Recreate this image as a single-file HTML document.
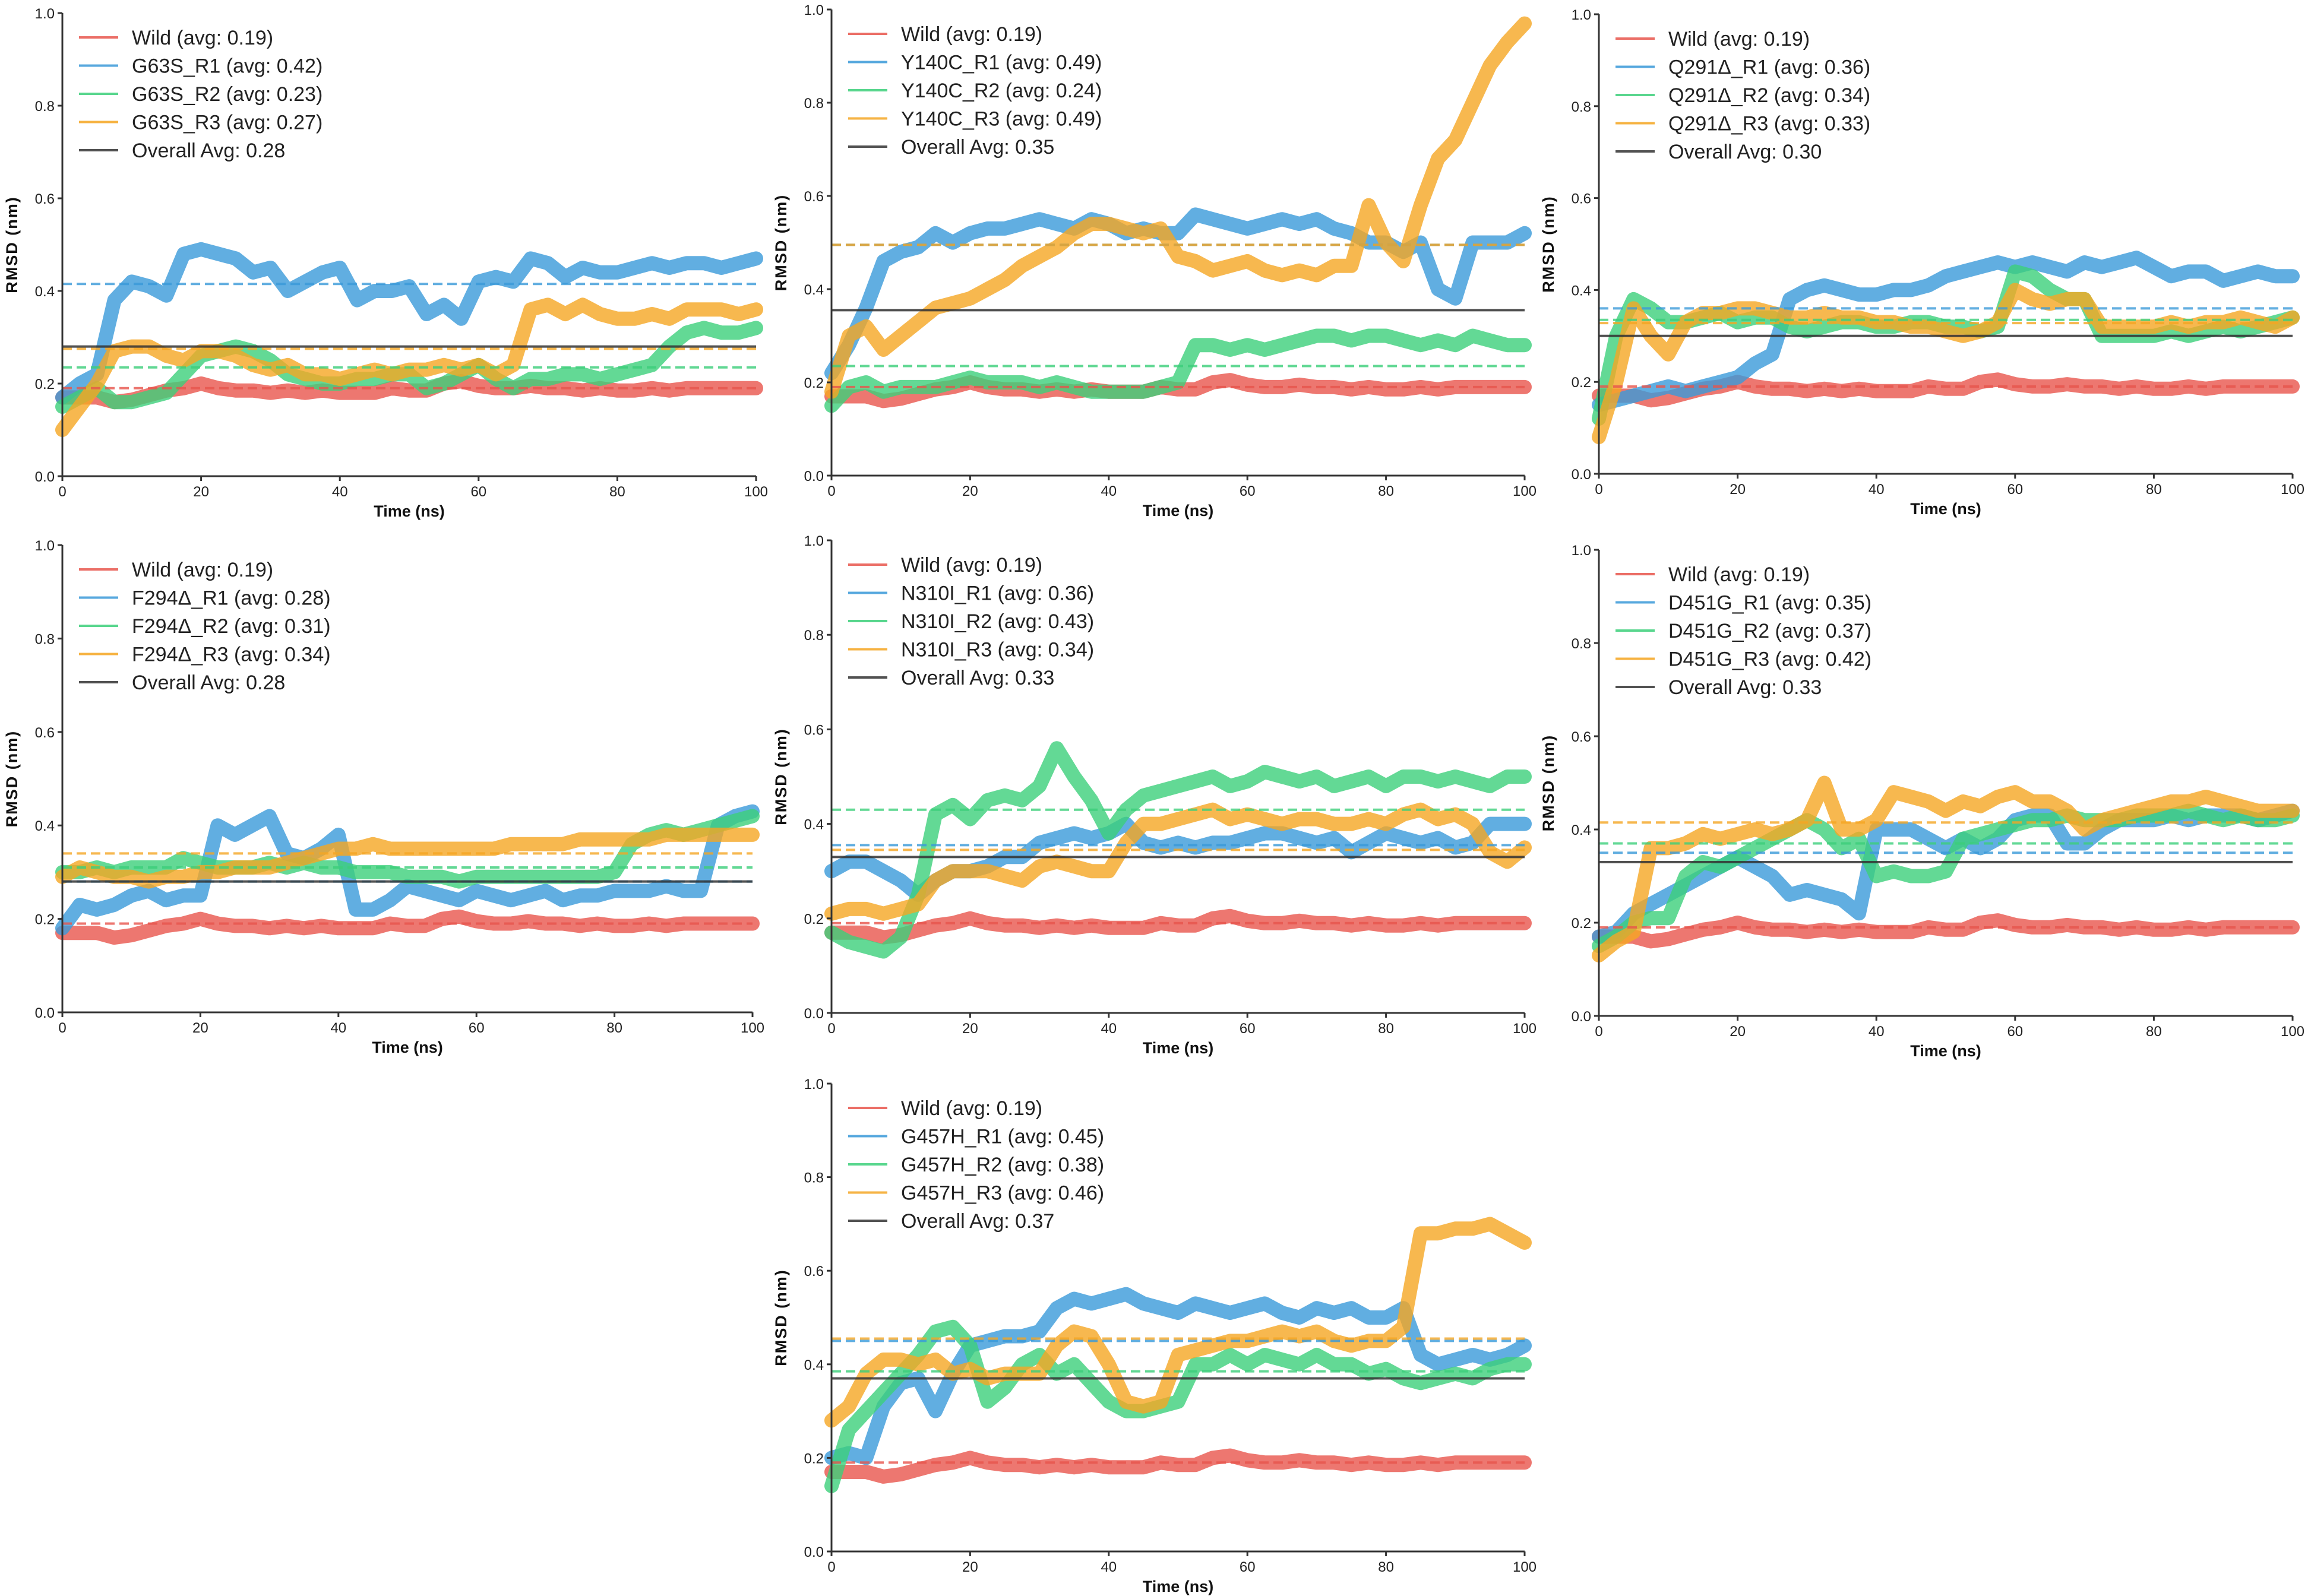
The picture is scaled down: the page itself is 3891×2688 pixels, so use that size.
<!DOCTYPE html>
<html><head><meta charset="utf-8">
<style>
html,body{margin:0;padding:0;background:#fff;}
svg{display:block;}
text{font-family:"Liberation Sans","DejaVu Sans",sans-serif;}
</style></head>
<body>
<svg id="fig" width="3891" height="2688" viewBox="0 0 3891 2688" xmlns="http://www.w3.org/2000/svg"></svg>
<script>
// time axis: 0..100 ns every 2.5 ns
const times = [0,2.5,5,7.5,10,12.5,15,17.5,20,22.5,25,27.5,30,32.5,35,37.5,40,42.5,45,47.5,50,52.5,55,57.5,60,62.5,65,67.5,70,72.5,75,77.5,80,82.5,85,87.5,90,92.5,95,97.5,100];
const yTicks = [0.0,0.2,0.4,0.6,0.8,1.0];
const xTicks = [0,20,40,60,80,100];
const wild = [0.17,0.17,0.17,0.16,0.165,0.175,0.185,0.19,0.20,0.19,0.185,0.185,0.18,0.185,0.18,0.185,0.18,0.18,0.18,0.19,0.185,0.185,0.20,0.205,0.195,0.19,0.19,0.195,0.19,0.19,0.185,0.19,0.185,0.185,0.19,0.185,0.19,0.19,0.19,0.19,0.19];
const wildAvg = 0.19;

const g63sR1 = [0.17,0.20,0.22,0.38,0.42,0.41,0.39,0.48,0.49,0.48,0.47,0.44,0.45,0.40,0.42,0.44,0.45,0.38,0.40,0.40,0.41,0.35,0.37,0.34,0.42,0.43,0.42,0.47,0.46,0.43,0.45,0.44,0.44,0.45,0.46,0.45,0.46,0.46,0.45,0.46,0.47];
const g63sR2 = [0.15,0.17,0.19,0.16,0.16,0.17,0.18,0.22,0.26,0.27,0.28,0.27,0.25,0.22,0.21,0.20,0.20,0.21,0.21,0.22,0.22,0.19,0.20,0.22,0.24,0.21,0.19,0.21,0.21,0.22,0.22,0.21,0.22,0.23,0.24,0.28,0.31,0.32,0.31,0.31,0.32];
const g63sR3 = [0.10,0.15,0.20,0.27,0.28,0.28,0.26,0.25,0.27,0.27,0.26,0.24,0.23,0.24,0.22,0.22,0.21,0.22,0.23,0.22,0.23,0.23,0.24,0.23,0.24,0.22,0.24,0.36,0.37,0.35,0.37,0.35,0.34,0.34,0.35,0.34,0.36,0.36,0.36,0.35,0.36];
const g63sAvgs = [0.415,0.235,0.275,0.28];

const y140cR1 = [0.22,0.28,0.36,0.46,0.48,0.49,0.52,0.50,0.52,0.53,0.53,0.54,0.55,0.54,0.53,0.55,0.54,0.52,0.53,0.52,0.52,0.56,0.55,0.54,0.53,0.54,0.55,0.54,0.55,0.53,0.52,0.50,0.50,0.48,0.50,0.40,0.38,0.50,0.50,0.50,0.52];
const y140cR2 = [0.15,0.19,0.20,0.18,0.19,0.19,0.19,0.20,0.21,0.20,0.20,0.20,0.19,0.20,0.19,0.18,0.18,0.18,0.18,0.19,0.20,0.28,0.28,0.27,0.28,0.27,0.28,0.29,0.30,0.30,0.29,0.30,0.30,0.29,0.28,0.29,0.28,0.30,0.29,0.28,0.28];
const y140cR3 = [0.18,0.30,0.32,0.27,0.30,0.33,0.36,0.37,0.38,0.40,0.42,0.45,0.47,0.49,0.52,0.54,0.54,0.53,0.52,0.53,0.47,0.46,0.44,0.45,0.46,0.44,0.43,0.44,0.43,0.45,0.45,0.58,0.50,0.46,0.58,0.68,0.72,0.80,0.88,0.93,0.97];
const y140cAvgs = [0.495,0.235,0.495,0.355];

const q291R1 = [0.15,0.16,0.17,0.18,0.19,0.18,0.19,0.20,0.21,0.24,0.26,0.38,0.40,0.41,0.40,0.39,0.39,0.40,0.40,0.41,0.43,0.44,0.45,0.46,0.45,0.46,0.45,0.44,0.46,0.45,0.46,0.47,0.45,0.43,0.44,0.44,0.42,0.43,0.44,0.43,0.43];
const q291R2 = [0.12,0.30,0.38,0.36,0.33,0.33,0.34,0.35,0.33,0.34,0.34,0.32,0.31,0.32,0.33,0.33,0.32,0.32,0.33,0.33,0.32,0.32,0.31,0.32,0.44,0.43,0.40,0.38,0.38,0.30,0.30,0.30,0.30,0.31,0.30,0.31,0.32,0.31,0.32,0.33,0.34];
const q291R3 = [0.08,0.20,0.36,0.30,0.26,0.33,0.35,0.35,0.36,0.36,0.35,0.34,0.34,0.35,0.34,0.34,0.33,0.33,0.32,0.32,0.31,0.30,0.31,0.33,0.40,0.38,0.37,0.38,0.38,0.32,0.32,0.32,0.32,0.33,0.32,0.33,0.33,0.34,0.33,0.32,0.34];
const q291Avgs = [0.36,0.335,0.328,0.30];

const f294R1 = [0.18,0.23,0.22,0.23,0.25,0.26,0.24,0.25,0.25,0.40,0.38,0.40,0.42,0.34,0.33,0.35,0.38,0.22,0.22,0.24,0.27,0.26,0.25,0.24,0.26,0.25,0.24,0.25,0.26,0.24,0.25,0.25,0.26,0.26,0.26,0.27,0.26,0.26,0.40,0.42,0.43];
const f294R2 = [0.30,0.30,0.31,0.30,0.31,0.31,0.31,0.33,0.32,0.31,0.31,0.31,0.32,0.31,0.32,0.31,0.31,0.30,0.30,0.30,0.29,0.29,0.29,0.28,0.29,0.29,0.29,0.29,0.29,0.29,0.29,0.29,0.30,0.36,0.38,0.39,0.38,0.39,0.40,0.41,0.42];
const f294R3 = [0.29,0.31,0.30,0.29,0.29,0.28,0.29,0.29,0.30,0.30,0.31,0.31,0.31,0.32,0.33,0.34,0.35,0.35,0.36,0.35,0.35,0.35,0.35,0.35,0.35,0.35,0.36,0.36,0.36,0.36,0.37,0.37,0.37,0.37,0.37,0.38,0.38,0.38,0.38,0.38,0.38];
const f294Avgs = [0.28,0.31,0.34,0.28];

const n310R1 = [0.30,0.32,0.32,0.30,0.28,0.25,0.28,0.30,0.30,0.31,0.33,0.33,0.36,0.37,0.38,0.37,0.38,0.40,0.36,0.35,0.36,0.35,0.36,0.36,0.37,0.38,0.38,0.37,0.36,0.37,0.34,0.36,0.38,0.37,0.36,0.37,0.35,0.36,0.40,0.40,0.40];
const n310R2 = [0.17,0.15,0.14,0.13,0.16,0.25,0.42,0.44,0.41,0.45,0.46,0.45,0.48,0.56,0.50,0.45,0.38,0.43,0.46,0.47,0.48,0.49,0.50,0.48,0.49,0.51,0.50,0.49,0.50,0.48,0.49,0.50,0.48,0.50,0.50,0.49,0.50,0.49,0.48,0.50,0.50];
const n310R3 = [0.21,0.22,0.22,0.21,0.22,0.23,0.28,0.30,0.30,0.30,0.29,0.28,0.31,0.32,0.31,0.30,0.30,0.36,0.40,0.40,0.41,0.42,0.43,0.41,0.42,0.41,0.40,0.41,0.41,0.40,0.40,0.41,0.40,0.42,0.43,0.41,0.42,0.40,0.34,0.32,0.35];
const n310Avgs = [0.355,0.43,0.345,0.33];

const d451R1 = [0.17,0.18,0.22,0.24,0.26,0.28,0.30,0.32,0.34,0.32,0.30,0.26,0.27,0.26,0.25,0.22,0.40,0.40,0.40,0.38,0.36,0.38,0.36,0.38,0.42,0.43,0.43,0.37,0.37,0.40,0.42,0.42,0.42,0.43,0.42,0.43,0.43,0.43,0.42,0.43,0.44];
const d451R2 = [0.15,0.17,0.20,0.21,0.21,0.30,0.33,0.32,0.34,0.36,0.38,0.40,0.42,0.40,0.36,0.38,0.30,0.31,0.30,0.30,0.31,0.38,0.39,0.40,0.41,0.42,0.42,0.43,0.42,0.42,0.42,0.43,0.43,0.43,0.44,0.43,0.42,0.43,0.42,0.42,0.43];
const d451R3 = [0.13,0.16,0.18,0.36,0.36,0.37,0.39,0.38,0.39,0.40,0.39,0.40,0.42,0.50,0.40,0.40,0.42,0.48,0.47,0.46,0.44,0.46,0.45,0.47,0.48,0.46,0.46,0.44,0.40,0.42,0.43,0.44,0.45,0.46,0.46,0.47,0.46,0.45,0.44,0.44,0.44];
const d451Avgs = [0.35,0.37,0.415,0.33];

const g457R1 = [0.20,0.21,0.20,0.31,0.36,0.37,0.30,0.38,0.44,0.45,0.46,0.46,0.47,0.52,0.54,0.53,0.54,0.55,0.53,0.52,0.51,0.53,0.52,0.51,0.52,0.53,0.51,0.50,0.52,0.51,0.52,0.50,0.50,0.52,0.42,0.40,0.41,0.42,0.41,0.42,0.44];
const g457R2 = [0.14,0.26,0.30,0.34,0.38,0.42,0.47,0.48,0.44,0.32,0.35,0.40,0.42,0.38,0.40,0.36,0.32,0.30,0.30,0.31,0.32,0.40,0.40,0.42,0.40,0.42,0.41,0.40,0.42,0.40,0.40,0.38,0.39,0.37,0.36,0.37,0.38,0.37,0.39,0.40,0.40];
const g457R3 = [0.28,0.31,0.38,0.41,0.41,0.40,0.41,0.38,0.39,0.37,0.38,0.38,0.38,0.44,0.47,0.46,0.40,0.32,0.31,0.32,0.42,0.43,0.44,0.45,0.45,0.46,0.47,0.46,0.47,0.45,0.44,0.45,0.45,0.48,0.68,0.68,0.69,0.69,0.70,0.68,0.66];
const g457Avgs = [0.45,0.385,0.455,0.37];

const panelNames = ["G63S","Y140C","Q291Δ","F294Δ","N310I","D451G","G457H"];
const panelLegends = [
 ["Wild (avg: 0.19)","G63S_R1 (avg: 0.42)","G63S_R2 (avg: 0.23)","G63S_R3 (avg: 0.27)","Overall Avg: 0.28"],
 ["Wild (avg: 0.19)","Y140C_R1 (avg: 0.49)","Y140C_R2 (avg: 0.24)","Y140C_R3 (avg: 0.49)","Overall Avg: 0.35"],
 ["Wild (avg: 0.19)","Q291Δ_R1 (avg: 0.36)","Q291Δ_R2 (avg: 0.34)","Q291Δ_R3 (avg: 0.33)","Overall Avg: 0.30"],
 ["Wild (avg: 0.19)","F294Δ_R1 (avg: 0.28)","F294Δ_R2 (avg: 0.31)","F294Δ_R3 (avg: 0.34)","Overall Avg: 0.28"],
 ["Wild (avg: 0.19)","N310I_R1 (avg: 0.36)","N310I_R2 (avg: 0.43)","N310I_R3 (avg: 0.34)","Overall Avg: 0.33"],
 ["Wild (avg: 0.19)","D451G_R1 (avg: 0.35)","D451G_R2 (avg: 0.37)","D451G_R3 (avg: 0.42)","Overall Avg: 0.33"],
 ["Wild (avg: 0.19)","G457H_R1 (avg: 0.45)","G457H_R2 (avg: 0.38)","G457H_R3 (avg: 0.46)","Overall Avg: 0.37"]
];
const panelSeries = [[g63sR1,g63sR2,g63sR3],[y140cR1,y140cR2,y140cR3],[q291R1,q291R2,q291R3],[f294R1,f294R2,f294R3],[n310R1,n310R2,n310R3],[d451R1,d451R2,d451R3],[g457R1,g457R2,g457R3]];
const panelAvgs = [g63sAvgs,y140cAvgs,q291Avgs,f294Avgs,n310Avgs,d451Avgs,g457Avgs];

// layout (pixel geometry, not data)
const layout = [
 {x0:105,x1:1273,yb:802,yt:22},
 {x0:1400,x1:2567,yb:801,yt:16},
 {x0:2692,x1:3860,yb:798,yt:24},
 {x0:105,x1:1267,yb:1705,yt:918},
 {x0:1400,x1:2567,yb:1706,yt:910},
 {x0:2692,x1:3860,yb:1711,yt:926},
 {x0:1400,x1:2567,yb:2613,yt:1825}
];
const colors = ["#e8554c","#3a9ad9","#3ccf7a","#f5a623"];
const NS = "http://www.w3.org/2000/svg";
const fig = document.getElementById("fig");
function mk(tag, attrs, parent){
  const e = document.createElementNS(NS, tag);
  for (const k in attrs) e.setAttribute(k, attrs[k]);
  parent.appendChild(e);
  return e;
}

layout.forEach((L, p) => {
  const g = mk("g", {}, fig);
  
  
  const sx = t => L.x0 + (t/100)*(L.x1-L.x0);
  const sy = v => L.yb - v*(L.yb-L.yt);

  const all = [wild].concat(panelSeries[p]);
  all.forEach((ser, s) => {
    let d = "";
    ser.forEach((v,i) => { d += (i?"L":"M") + sx(times[i]).toFixed(1) + "," + sy(v).toFixed(1); });
    const path = mk("path", {d:d, fill:"none", stroke:colors[s], "stroke-width":24, "stroke-linejoin":"round", "stroke-linecap":"round", opacity:0.8}, g);
    
    
  });
  // average dashed lines
  const avgVals = [wildAvg].concat(panelAvgs[p].slice(0,3));
  avgVals.forEach((a, s) => {
    const ln = mk("line", {x1:L.x0, x2:L.x1, y1:sy(a), y2:sy(a), stroke:colors[s], "stroke-width":4, "stroke-dasharray":"16 8", opacity:0.8}, g);
    
    
  });
  const ov = mk("line", {x1:L.x0, x2:L.x1, y1:sy(panelAvgs[p][3]), y2:sy(panelAvgs[p][3]), stroke:"#333", "stroke-width":4, opacity:0.85}, g);
  
  

  // axes
  const ax = mk("path", {d:`M${L.x0},${L.yt}V${L.yb}H${L.x1}`, fill:"none", stroke:"#333", "stroke-width":3}, g);
  
  
  yTicks.forEach(v => {
    const tk = mk("line", {x1:L.x0-8, x2:L.x0, y1:sy(v), y2:sy(v), stroke:"#333", "stroke-width":3}, g);
    
    
    const tx = mk("text", {x:L.x0-13, y:sy(v)+9, "text-anchor":"end", "font-size":24, fill:"#222"}, g);
    tx.textContent = v.toFixed(1);
    
    
  });
  xTicks.forEach(v => {
    const tk = mk("line", {x1:sx(v), x2:sx(v), y1:L.yb, y2:L.yb+8, stroke:"#333", "stroke-width":3}, g);
    
    
    const tx = mk("text", {x:sx(v), y:L.yb+34, "text-anchor":"middle", "font-size":24, fill:"#222"}, g);
    tx.textContent = String(v);
    
    
  });
  const xl = mk("text", {x:(L.x0+L.x1)/2, y:L.yb+68, "text-anchor":"middle", "font-size":27, "font-weight":"bold", fill:"#111"}, g);
  xl.textContent = "Time (ns)";
  
  
  const ym = (L.yt+L.yb)/2;
  const yl = mk("text", {x:L.x0-76, y:ym, "text-anchor":"middle", "font-size":27, "font-weight":"bold", fill:"#111", transform:`rotate(-90 ${L.x0-76} ${ym})`, "letter-spacing":"2"}, g);
  yl.textContent = "RMSD (nm)";
  
  

  // legend
  const lg = mk("g", {}, g);
  
  
  const lcol = colors.concat(["#333"]);
  panelLegends[p].forEach((lab, k) => {
    const yy = L.yt + 41 + k*47.5;
    const hl = mk("line", {x1:L.x0+28, x2:L.x0+94, y1:yy, y2:yy, stroke:lcol[k], "stroke-width":4, opacity:0.85}, lg);
    
    
    const lt = mk("text", {x:L.x0+117, y:yy+12, "font-size":34, fill:"#222"}, lg);
    lt.textContent = lab;
    
    
  });
});
</script>
</body></html>
